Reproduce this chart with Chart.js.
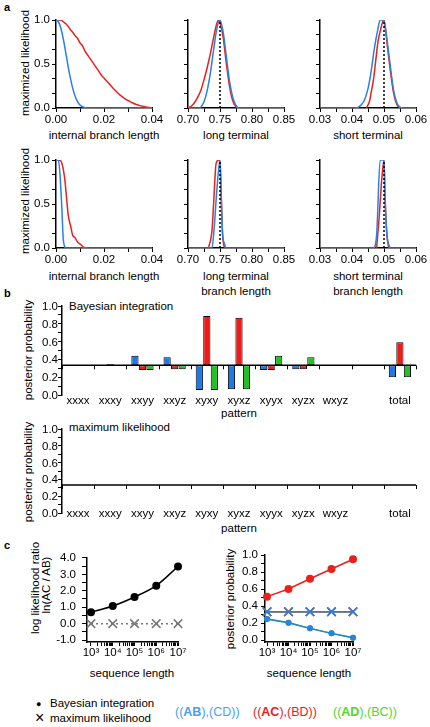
<!DOCTYPE html>
<html lang="en">
<head>
<meta charset="UTF-8">
<title>Branch length likelihoods and posterior probabilities</title>
<script src="https://cdn.jsdelivr.net/npm/chart.js"></script>
<style>
  body { margin: 0; background: #fff; }
  #fig { position: relative; width: 430px; height: 727px; overflow: hidden; font-family: 'Liberation Sans', Arial, sans-serif; color: #000; }
  #fig canvas { position: absolute; }
  .t { position: absolute; white-space: nowrap; font-size: 11.5px; line-height: 14px; }
  .c { position: absolute; white-space: nowrap; font-size: 11.5px; line-height: 14px; transform: translate(-50%, -50%); }
  .v { transform: translate(-50%, -50%) rotate(-90deg); }
  .ry { position: absolute; white-space: nowrap; font-size: 11.5px; line-height: 14px; height: 14px; text-align: right; color: #000; }
  .panel { position: absolute; font-weight: bold; font-size: 11px; line-height: 12px; }
</style>
</head>
<body>
<div id="fig">
  <div class="panel" style="left:4px;top:1px">a</div>
  <div class="panel" style="left:4px;top:287px">b</div>
  <div class="panel" style="left:4px;top:539px">c</div>

  <div class="c v" style="left:25px;top:63px">maximized likelihood</div>
  <div class="c" style="left:104px;top:135px">internal branch length</div>
  <div class="c" style="left:236px;top:135px">long terminal</div>
  <div class="c" style="left:368px;top:135px">short terminal</div>
  <div class="c v" style="left:25px;top:201px">maximized likelihood</div>
  <div class="c" style="left:104px;top:276px">internal branch length</div>
  <div class="c" style="left:236px;top:276px">long terminal</div>
  <div class="c" style="left:236px;top:291px">branch length</div>
  <div class="c" style="left:368px;top:276px">short terminal</div>
  <div class="c" style="left:368px;top:291px">branch length</div>

  <div class="t" style="left:69px;top:299px">Bayesian integration</div>
  <div class="c v" style="left:28px;top:350px">posterior probability</div>
  <div class="c" style="left:239px;top:413px">pattern</div>
  <div class="t" style="left:69px;top:420px">maximum likelihood</div>
  <div class="c v" style="left:28px;top:472px">posterior probability</div>
  <div class="c" style="left:239px;top:528px">pattern</div>

  <div class="c v" style="left:35px;top:588px">log likelihood ratio</div>
  <div class="c v" style="left:46px;top:585px">ln(AC / AB)</div>
  <div class="c" style="left:132px;top:673px">sequence length</div>
  <div class="c v" style="left:230px;top:599px">posterior probability</div>
  <div class="c" style="left:309px;top:673px">sequence length</div>

  <div class="t" style="left:36px;top:697px;font-size:9px">●</div>
  <div class="t" style="left:50px;top:696px">Bayesian integration</div>
  <div class="t" style="left:35px;top:709px;font-size:16px;line-height:18px">×</div>
  <div class="t" style="left:50px;top:711px">maximum likelihood</div>
  <div class="t" style="left:175px;top:705px;font-size:12.5px;color:#4a9ef5">((<b>AB</b>),(CD))</div>
  <div class="t" style="left:253px;top:705px;font-size:12.5px;color:#e8211d">((<b>AC</b>),(BD))</div>
  <div class="t" style="left:333px;top:705px;font-size:12.5px;color:#4cd82c">((<b>AD</b>),(BC))</div>
</div>

<script>
  // ---- panel a: maximized likelihood profiles, [branch length, likelihood] ----
  const intBlue1 = [[0,1],[0.001,0.98],[0.002,0.91],[0.003,0.79],[0.004,0.64],[0.005,0.48],[0.006,0.34],[0.007,0.22],[0.008,0.13],[0.009,0.07],[0.010,0.035],[0.011,0.015],[0.012,0.005],[0.013,0],[0.04,0]];
  const intRed1 = [[0,1],[0.002,1],[0.003,0.98],[0.004,0.96],[0.005,0.93],[0.006,0.89],[0.007,0.86],[0.008,0.82],[0.009,0.79],[0.010,0.74],[0.011,0.71],[0.012,0.65],[0.013,0.61],[0.014,0.57],[0.015,0.53],[0.016,0.49],[0.017,0.45],[0.018,0.41],[0.019,0.37],[0.020,0.34],[0.021,0.31],[0.022,0.28],[0.023,0.25],[0.024,0.22],[0.025,0.19],[0.026,0.165],[0.027,0.14],[0.028,0.12],[0.029,0.10],[0.030,0.085],[0.031,0.07],[0.032,0.057],[0.033,0.045],[0.034,0.035],[0.035,0.027],[0.036,0.02],[0.037,0.014],[0.038,0.009],[0.039,0.005],[0.040,0.002]];
  const longBlue1 = [[0.70,0],[0.718,0],[0.72,0.01],[0.725,0.07],[0.73,0.2],[0.735,0.4],[0.74,0.66],[0.745,0.9],[0.75,1],[0.755,0.86],[0.76,0.58],[0.765,0.3],[0.77,0.12],[0.775,0.03],[0.78,0],[0.85,0]];
  const longRed1 = [[0.70,0],[0.705,0.02],[0.71,0.06],[0.715,0.12],[0.72,0.2],[0.725,0.32],[0.73,0.46],[0.735,0.62],[0.74,0.8],[0.745,0.96],[0.748,1],[0.75,0.97],[0.755,0.8],[0.76,0.5],[0.765,0.24],[0.77,0.08],[0.775,0.015],[0.78,0]];
  const shortBlue1 = [[0.03,0],[0.041,0],[0.042,0.01],[0.043,0.04],[0.044,0.1],[0.045,0.22],[0.046,0.42],[0.047,0.68],[0.048,0.88],[0.0488,1],[0.0498,1],[0.0505,0.9],[0.051,0.76],[0.052,0.47],[0.053,0.2],[0.054,0.06],[0.055,0.01],[0.056,0],[0.06,0]];
  const shortRed1 = [[0.0445,0],[0.0455,0.08],[0.046,0.18],[0.0467,0.32],[0.0472,0.47],[0.0477,0.63],[0.0482,0.77],[0.0488,0.87],[0.0495,0.97],[0.050,1],[0.0505,0.88],[0.051,0.72],[0.052,0.42],[0.053,0.17],[0.054,0.04],[0.055,0]];
  const intBlue2 = [[0,1],[0.001,1],[0.0017,0.82],[0.0024,0.47],[0.003,0.11],[0.0037,0.01],[0.004,0],[0.04,0]];
  const intRed2 = [[0,1],[0.001,1],[0.002,0.99],[0.003,0.9],[0.0037,0.77],[0.0045,0.54],[0.0051,0.37],[0.0061,0.25],[0.007,0.14],[0.0079,0.12],[0.0089,0.07],[0.0103,0.04],[0.0114,0.01],[0.013,0]];
  const longBlue2 = [[0.70,0],[0.7375,0],[0.7406,0.2],[0.745,0.65],[0.75,1],[0.752,0.6],[0.754,0.17],[0.757,0.05],[0.76,0],[0.85,0]];
  const longRed2 = [[0.732,0],[0.7375,0.2],[0.74,0.5],[0.7439,0.96],[0.748,1],[0.75,0.97],[0.752,0.55],[0.754,0.15],[0.756,0.03],[0.758,0]];
  const shortBlue2 = [[0.03,0],[0.0467,0],[0.0477,0.15],[0.0488,1],[0.050,1],[0.0503,0.62],[0.0509,0.16],[0.0517,0.02],[0.052,0],[0.06,0]];
  const shortRed2 = [[0.0477,0],[0.0485,0.36],[0.0493,0.78],[0.050,1],[0.0503,0.6],[0.0509,0.15],[0.0515,0]];
  const trueLong = 0.75;
  const trueShort = 0.05;

  const likeTicks = [0, 1/6, 2/6, 0.5, 4/6, 5/6, 1];
  const likeLabels = [0, 0.5, 1];
  const intTicks = [0, 0.01, 0.02, 0.03, 0.04];
  const intLabels = [0, 0.02, 0.04];
  const longTicks = [0.70, 0.725, 0.75, 0.775, 0.80, 0.825, 0.85];
  const longLabels = [0.70, 0.75, 0.80, 0.85];
  const shortTicks = [0.03, 0.035, 0.04, 0.045, 0.05, 0.055, 0.06];
  const shortLabels = [0.03, 0.04, 0.05, 0.06];

  // ---- panel b: posterior probability per site pattern ----
  const patterns = ['xxxx', 'xxxy', 'xxyy', 'xxyz', 'xyxy', 'xyxz', 'xyyx', 'xyzx', 'wxyz', '', 'total'];
  const chance = 0.3333;
  const bayesAB = [0.337, 0.325, 0.442, 0.423, 0.056, 0.064, 0.281, 0.288, 0.333, null, 0.199];
  const bayesAC = [0.330, 0.345, 0.281, 0.288, 0.888, 0.869, 0.281, 0.288, 0.333, null, 0.592];
  const bayesAD = [0.333, 0.325, 0.281, 0.288, 0.056, 0.064, 0.442, 0.423, 0.333, null, 0.199];
  const mlAB = [0.333, 0.333, 0.333, 0.333, 0.333, 0.333, 0.333, 0.333, 0.333, null, 0.333];
  const mlAC = [0.333, 0.333, 0.333, 0.333, 0.333, 0.333, 0.333, 0.333, 0.333, null, 0.333];
  const mlAD = [0.333, 0.333, 0.333, 0.333, 0.333, 0.333, 0.333, 0.333, 0.333, null, 0.333];
  const probTicks = [0, 0.1, 0.2, 0.3, 0.4, 0.5, 0.6, 0.7, 0.8, 0.9, 1];
  const probLabels = [0, 0.2, 0.4, 0.6, 0.8, 1];

  // ---- panel c: against sequence length ----
  const seqLen = [1e3, 1e4, 1e5, 1e6, 1e7];
  const bayesLogRatio = [0.70, 1.07, 1.62, 2.31, 3.48];
  const mlLogRatio = [0, 0, 0, 0, 0];
  const postAC = [0.51, 0.60, 0.72, 0.835, 0.95];
  const postAB = [0.247, 0.204, 0.137, 0.078, 0.027];
  const postAD = [0.247, 0.204, 0.137, 0.078, 0.027];
  const mlPostAB = [0.333, 0.333, 0.333, 0.333, 0.333];
  const mlPostAC = [0.333, 0.333, 0.333, 0.333, 0.333];
  const mlPostAD = [0.333, 0.333, 0.333, 0.333, 0.333];
  const ratioTicks = [-1, -0.5, 0, 0.5, 1, 1.5, 2, 2.5, 3, 3.5, 4];
  const ratioLabels = [-1, 0, 1, 2, 3, 4];

  const BLUE = '#2b80e2', RED = '#e8211d', GREEN = '#2cc42c';
  const BAR_BLUE = '#1e78e6', BAR_RED = '#f01a1a', BAR_GREEN = '#26c026';

  Chart.defaults.font.family = "'Liberation Sans', Arial, sans-serif";
  Chart.defaults.font.size = 11.5;
  Chart.defaults.color = '#000';

  const fig = document.getElementById('fig');
  const sup = {3: '\u00b3', 4: '\u2074', 5: '\u2075', 6: '\u2076', 7: '\u2077'};

  function has(list, v) {
    return list.some(l => Math.abs(l - v) < 1e-9);
  }

  // axis with a fixed list of ticks, only some of them labelled
  function axis(all, labelled, fmt, tickLen, pad) {
    return {
      border: { color: '#000', width: 1.5 },
      grid: { drawOnChartArea: false, color: '#000', tickLength: tickLen, tickWidth: 1 },
      afterBuildTicks: s => { s.ticks = all.map(v => ({ value: v })); },
      ticks: { autoSkip: false, maxRotation: 0, padding: pad, callback: v => has(labelled, v) ? fmt(v) : '' }
    };
  }

  // place a canvas so that its chart area lands on the given box
  function makeChart(area, m, config) {
    const c = document.createElement('canvas');
    c.width = area.r - area.l + m.left + m.right;
    c.height = area.b - area.t + m.top + m.bottom;
    c.style.left = (area.l - m.left) + 'px';
    c.style.top = (area.t - m.top) + 'px';
    fig.appendChild(c);
    const o = config.options;
    o.responsive = false;
    o.animation = false;
    o.devicePixelRatio = 1;
    o.layout = { padding: { left: 0, top: m.top, right: m.right, bottom: 0 } };
    o.scales.x.afterFit = s => { s.height = m.bottom; };
    o.scales.y.afterFit = s => { s.width = m.left; };
    o.plugins = Object.assign({ legend: { display: false }, tooltip: { enabled: false } }, o.plugins || {});
    return new Chart(c, config);
  }

  function curve(pairs, color) {
    return {
      data: pairs.map(p => ({ x: p[0], y: p[1] })),
      showLine: true, borderColor: color, borderWidth: 1.5, pointRadius: 0,
      cubicInterpolationMode: 'monotone'
    };
  }

  // the first dataset is drawn on top
  function likeChart(area, m, red, blue, truth, xMin, xMax, xTicks, xLabels, yLabelled) {
    const sets = [];
    if (truth !== null) {
      sets.push({ data: [{ x: truth, y: 0 }, { x: truth, y: 1 }], showLine: true, borderColor: '#000',
        borderWidth: 1.5, borderDash: [2, 2], pointRadius: 0 });
    }
    sets.push(curve(blue, BLUE), curve(red, RED));
    const x = axis(xTicks, xLabels, v => v.toFixed(2), 4, 1);
    x.min = xMin; x.max = xMax;
    const y = axis(likeTicks, yLabelled ? likeLabels : [], v => v.toFixed(1), 4, 2);
    y.min = 0; y.max = 1;
    return makeChart(area, m, { type: 'scatter', data: { datasets: sets }, options: { scales: { x, y } } });
  }

  const mL = { left: 56, top: 10, right: 14, bottom: 20 };
  const mR = { left: 20, top: 10, right: 14, bottom: 20 };
  likeChart({ l: 56, t: 20, r: 152, b: 108 }, mL, intRed1, intBlue1, null, 0, 0.04, intTicks, intLabels, true);
  likeChart({ l: 188, t: 20, r: 284, b: 108 }, mR, longRed1, longBlue1, trueLong, 0.70, 0.85, longTicks, longLabels, false);
  likeChart({ l: 320, t: 20, r: 416, b: 108 }, mR, shortRed1, shortBlue1, trueShort, 0.03, 0.06, shortTicks, shortLabels, false);
  likeChart({ l: 56, t: 160, r: 152, b: 248 }, mL, intRed2, intBlue2, null, 0, 0.04, intTicks, intLabels, true);
  likeChart({ l: 188, t: 160, r: 284, b: 248 }, mR, longRed2, longBlue2, trueLong, 0.70, 0.85, longTicks, longLabels, false);
  likeChart({ l: 320, t: 160, r: 416, b: 248 }, mR, shortRed2, shortBlue2, trueShort, 0.03, 0.06, shortTicks, shortLabels, false);

  // line at chance level with tick marks between the patterns
  const chanceLine = {
    id: 'chanceLine',
    afterDatasetsDraw(chart) {
      const { ctx, chartArea, scales: { x, y } } = chart;
      const py = y.getPixelForValue(chance);
      ctx.save();
      ctx.strokeStyle = '#000';
      ctx.lineWidth = 1.5;
      ctx.beginPath();
      ctx.moveTo(chartArea.left, py);
      ctx.lineTo(chartArea.right, py);
      ctx.stroke();
      ctx.lineWidth = 1;
      ctx.beginPath();
      for (let i = 0; i <= patterns.length; i++) {
        const px = Math.round(x.getPixelForValue(i - 0.5)) + 0.5;
        ctx.moveTo(px, py);
        ctx.lineTo(px, py + 4);
      }
      ctx.stroke();
      ctx.restore();
    }
  };

  function bars(vals, color) {
    return {
      data: vals.map(v => v === null ? null : [chance, v]),
      backgroundColor: color, borderColor: '#000', borderWidth: 1, borderSkipped: false,
      categoryPercentage: 0.7, barPercentage: 0.96
    };
  }

  function patternChart(area, m, ab, ac, ad, mirror, labelPad) {
    const x = {
      border: { display: false },
      grid: { display: false, drawTicks: false },
      ticks: { autoSkip: false, maxRotation: 0, mirror: mirror, padding: labelPad }
    };
    const y = axis(probTicks, [], v => '', 4, 1);
    y.min = 0; y.max = 1;
    const chart = makeChart(area, m, {
      type: 'bar',
      data: { labels: patterns, datasets: [bars(ab, BAR_BLUE), bars(ac, BAR_RED), bars(ad, BAR_GREEN)] },
      options: { scales: { x, y } },
      plugins: [chanceLine]
    });
    // probability labels: right-aligned text boxes ending just left of the y scale
    const ys = chart.scales.y;
    probLabels.forEach(v => {
      const d = document.createElement('div');
      d.className = 'ry';
      d.textContent = v.toFixed(1);
      d.style.right = (430 - (area.l - 4)) + 'px';
      d.style.top = Math.round(area.t - m.top + ys.getPixelForValue(v) - 7) + 'px';
      fig.appendChild(d);
    });
    return chart;
  }

  patternChart({ l: 62, t: 306, r: 416, b: 395 }, { left: 62, top: 10, right: 14, bottom: 12 }, bayesAB, bayesAC, bayesAD, false, -1);
  patternChart({ l: 62, t: 429, r: 416, b: 517 }, { left: 62, top: 10, right: 14, bottom: 4 }, mlAB, mlAC, mlAD, true, -8);

  // ---- panel c ----
  const logTicks = [];
  for (let e = 3; e < 7; e++) for (let k = 1; k < 10; k++) logTicks.push(k * Math.pow(10, e));
  logTicks.push(1e7);

  function seqAxis(min) {
    const x = axis(logTicks, seqLen, v => '10' + sup[Math.round(Math.log10(v))], 4, 0);
    x.type = 'logarithmic';
    x.min = min; x.max = 1e7;
    return x;
  }

  function pts(vals) {
    return vals.map((v, i) => ({ x: seqLen[i], y: v }));
  }

  function dotSet(vals, color, r, opts) {
    return Object.assign({ data: pts(vals), showLine: true, borderColor: color, backgroundColor: color,
      borderWidth: 1.5, pointStyle: 'circle', pointRadius: r, pointBorderWidth: 0 }, opts || {});
  }

  function crossSet(vals, color, opts) {
    return Object.assign({ data: pts(vals), showLine: true, borderColor: color, backgroundColor: color,
      borderWidth: 1.5, pointStyle: 'crossRot', pointRadius: 6, pointBorderWidth: 1.5 }, opts || {});
  }

  {
    const y = axis(ratioTicks, ratioLabels, v => v.toFixed(1), 5, 6);
    y.min = -1.118; y.max = 4;
    makeChart({ l: 87, t: 555, r: 178, b: 642 }, { left: 87, top: 10, right: 16, bottom: 20 }, {
      type: 'scatter',
      data: { datasets: [
        dotSet(bayesLogRatio, '#000', 4, { cubicInterpolationMode: 'monotone' }),
        crossSet(mlLogRatio, '#777', { borderDash: [2, 3], pointBorderColor: '#777' })
      ] },
      options: { clip: false, scales: { x: seqAxis(655), y } }
    });
  }

  {
    const y = axis(probTicks, probLabels, v => v.toFixed(1), 4, 3);
    y.min = -0.0235; y.max = 1;
    makeChart({ l: 265, t: 555, r: 353, b: 642 }, { left: 50, top: 10, right: 16, bottom: 20 }, {
      type: 'scatter',
      data: { datasets: [
        crossSet(mlPostAB, BLUE),
        crossSet(mlPostAC, RED),
        crossSet(mlPostAD, GREEN),
        dotSet(postAC, RED, 4),
        dotSet(postAB, BLUE, 3),
        dotSet(postAD, GREEN, 3)
      ] },
      options: { clip: false, scales: { x: seqAxis(807), y } }
    });
  }
</script>
</body>
</html>
